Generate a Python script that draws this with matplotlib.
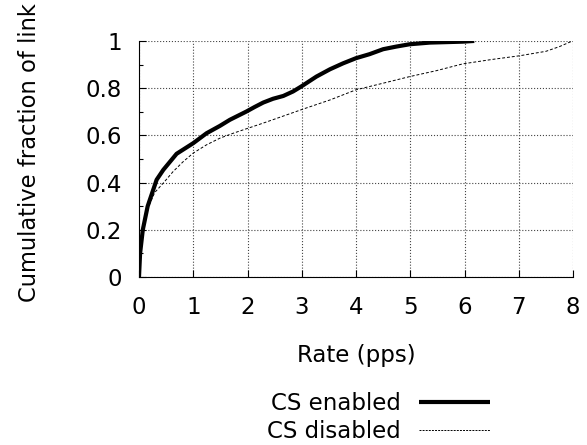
import numpy as np
import matplotlib.pyplot as plt
from matplotlib.lines import Line2D
from matplotlib.ticker import MultipleLocator

plt.rcParams['font.family'] = ['DejaVu Sans']

# CDF of per-link rate, CS enabled
rate_on = [0, 0.01, 0.02, 0.07, 0.16, 0.325, 0.448, 0.693, 1.0, 1.245, 1.49,
           1.675, 1.98, 2.13, 2.29, 2.47, 2.66, 2.84, 2.99, 3.27, 3.52, 3.76,
           4.0, 4.25, 4.5, 4.74, 4.99, 5.36, 5.97, 6.18]
cdf_on = [0, 0.05, 0.1, 0.2, 0.3, 0.412, 0.454, 0.522, 0.567, 0.609, 0.64,
          0.666, 0.701, 0.72, 0.739, 0.755, 0.767, 0.786, 0.807, 0.849, 0.88,
          0.905, 0.927, 0.944, 0.965, 0.976, 0.986, 0.993, 0.997, 1.0]

# CDF of per-link rate, CS disabled
rate_off = [0, 0.01, 0.02, 0.07, 0.16, 0.29, 0.448, 0.63, 0.816, 1.0, 1.245,
            1.49, 1.736, 1.98, 2.29, 2.6, 3.02, 3.52, 4.0, 4.5, 4.99, 5.48,
            5.97, 6.52, 7.01, 7.5, 7.75, 7.99]
cdf_off = [0, 0.05, 0.1, 0.2, 0.29, 0.358, 0.398, 0.447, 0.489, 0.525, 0.56,
           0.588, 0.609, 0.628, 0.652, 0.677, 0.711, 0.75, 0.793, 0.821, 0.849,
           0.874, 0.903, 0.922, 0.937, 0.956, 0.976, 1.0]

x_ticks = [0, 1, 2, 3, 4, 5, 6, 7, 8]
y_ticks = [0, 0.2, 0.4, 0.6, 0.8, 1.0]
y_labels = ['0', '0.2', '0.4', '0.6', '0.8', '1']

fs = 16.5

fig = plt.figure(figsize=(5.87, 4.45), dpi=100)
ax = fig.add_axes([0.2368, 0.3775, 0.7394, 0.5305])

ax.plot(rate_on, cdf_on, color='black', lw=3, solid_capstyle='butt')
ax.plot(rate_off, cdf_off, color='black', lw=0.7, dashes=(3, 2))

ax.set_xlim(0, 8)
ax.set_ylim(0, 1)
ax.set_xticks(x_ticks)
ax.set_xticklabels([str(v) for v in x_ticks], fontsize=fs)
ax.set_yticks(y_ticks)
ax.set_yticklabels(y_labels, fontsize=fs)
ax.yaxis.set_minor_locator(MultipleLocator(0.1))
ax.tick_params(axis='x', direction='in', length=5, width=0.8, pad=13.5)
ax.tick_params(axis='y', direction='in', length=5, width=0.8, pad=12)
ax.tick_params(which='minor', direction='in', length=3, width=0.8)
ax.grid(True, which='major', color='#444444', linestyle=':', linewidth=0.8)
ax.spines['top'].set_visible(False)
ax.spines['right'].set_visible(False)

ax.set_xlabel('Rate (pps)', fontsize=fs, labelpad=18)
fig.text(0.07, 0.658, 'Cumulative fraction of link', rotation=90,
         ha='right', va='center', fontsize=16.3)

# legend handles (finer dashes than in the plot)
h1 = Line2D([], [], color='black', lw=3, solid_capstyle='butt')
h2 = Line2D([], [], color='black', lw=0.7, dashes=(2, 1.2))
fig.legend([h1, h2], ['CS enabled', 'CS disabled'], markerfirst=False,
           frameon=False, fontsize=fs, handlelength=3.1, handletextpad=0.8,
           labelspacing=0.2, loc='center', bbox_to_anchor=(0.645, 0.062))

fig.savefig('out.png', dpi=100)
